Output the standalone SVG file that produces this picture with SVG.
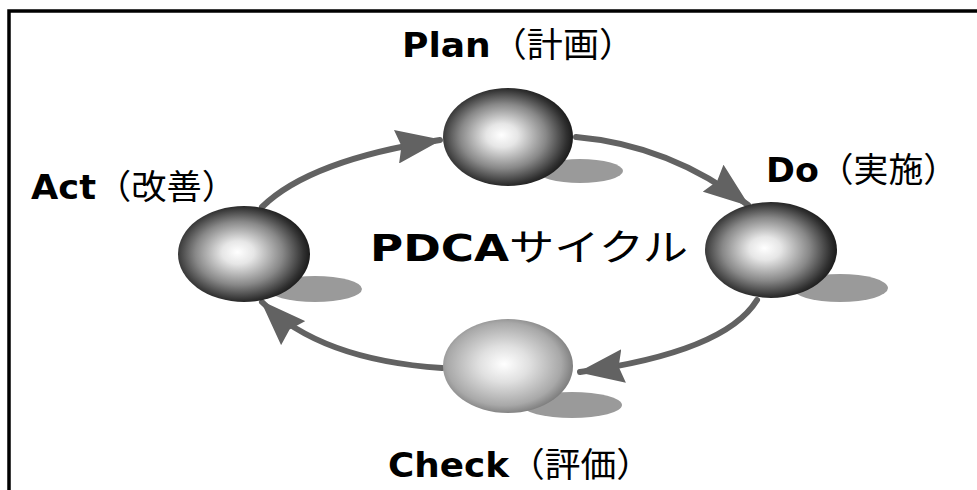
<svg xmlns="http://www.w3.org/2000/svg" width="977" height="490" viewBox="0 0 977 490">
<style>
.lat{font-family:"DejaVu Sans","Liberation Sans",sans-serif;font-weight:bold;font-size:34px;fill:#000}
.cjk{font-family:"Noto Sans CJK JP","Noto Sans",sans-serif;font-size:34px;font-weight:normal;fill:#000}
.lbl{font-family:"DejaVu Sans","Noto Sans CJK JP",sans-serif;fill:#000}
.big{font-size:37px}
.shadow{fill:#9a9a9a}
.conn{fill:none;stroke:#626262;stroke-width:6;stroke-linecap:round}
</style>
<defs>
<radialGradient id="sph" cx="47%" cy="50%" r="55%" fx="45%" fy="48%">
<stop offset="0" stop-color="#ffffff"/>
<stop offset="0.22" stop-color="#e6e6e6"/>
<stop offset="0.6" stop-color="#888888"/>
<stop offset="0.88" stop-color="#303030"/>
<stop offset="1" stop-color="#121212"/>
</radialGradient>
<radialGradient id="sphLight" cx="47%" cy="48%" r="55%">
<stop offset="0" stop-color="#ffffff"/>
<stop offset="0.35" stop-color="#e0e0e0"/>
<stop offset="0.8" stop-color="#a8a8a8"/>
<stop offset="1" stop-color="#777777"/>
</radialGradient>
<marker id="arr" markerUnits="userSpaceOnUse" viewBox="0 0 46 34" markerWidth="46" markerHeight="34" refX="44" refY="17" orient="auto">
<path d="M0,0 L46,17 L0,34 L5,17 Z" fill="#626262"/>
</marker>
</defs>
<rect width="977" height="490" fill="#fff"/>
<path d="M9,490 V11 H977" fill="none" stroke="#000" stroke-width="3.5"/>

<g id="connectors">
<path class="conn" d="M262,207 Q310,160 440,140" marker-end="url(#arr)"/>
<path class="conn" d="M576,137 Q670,145 748,205" marker-end="url(#arr)"/>
<path class="conn" d="M757,300 Q725,352 580,372" marker-end="url(#arr)"/>
<path class="conn" d="M442,368 Q320,360 262,302" marker-end="url(#arr)"/>
</g>

<g id="plan">
<ellipse class="shadow" cx="580" cy="171" rx="43" ry="12"/>
<ellipse cx="508" cy="137" rx="65" ry="49" fill="url(#sph)"/>
<text class="lbl" x="402" y="57" textLength="233" lengthAdjust="spacingAndGlyphs"><tspan class="lat">Plan</tspan><tspan class="cjk">（計画）</tspan></text>
</g>

<g id="do">
<ellipse class="shadow" cx="840" cy="288" rx="48" ry="14"/>
<ellipse cx="771" cy="250" rx="66" ry="48" fill="url(#sph)"/>
<text class="lbl" x="766" y="182" textLength="192" lengthAdjust="spacingAndGlyphs"><tspan class="lat">Do</tspan><tspan class="cjk">（実施）</tspan></text>
</g>

<g id="check">
<ellipse class="shadow" cx="572" cy="405" rx="50" ry="13"/>
<ellipse cx="508" cy="366" rx="65" ry="47" fill="url(#sphLight)"/>
<text class="lbl" x="388" y="477" textLength="264" lengthAdjust="spacingAndGlyphs"><tspan class="lat">Check</tspan><tspan class="cjk">（評価）</tspan></text>
</g>

<g id="act">
<ellipse class="shadow" cx="315" cy="289" rx="47" ry="13"/>
<ellipse cx="244" cy="254" rx="66" ry="48" fill="url(#sph)"/>
<text class="lbl" x="31" y="199" textLength="206" lengthAdjust="spacingAndGlyphs"><tspan class="lat">Act</tspan><tspan class="cjk">（改善）</tspan></text>
</g>

<g id="title">
<text class="lbl" x="370" y="261" textLength="318" lengthAdjust="spacingAndGlyphs"><tspan class="lat big">PDCA</tspan><tspan class="cjk big">サイクル</tspan></text>
</g>
</svg>
